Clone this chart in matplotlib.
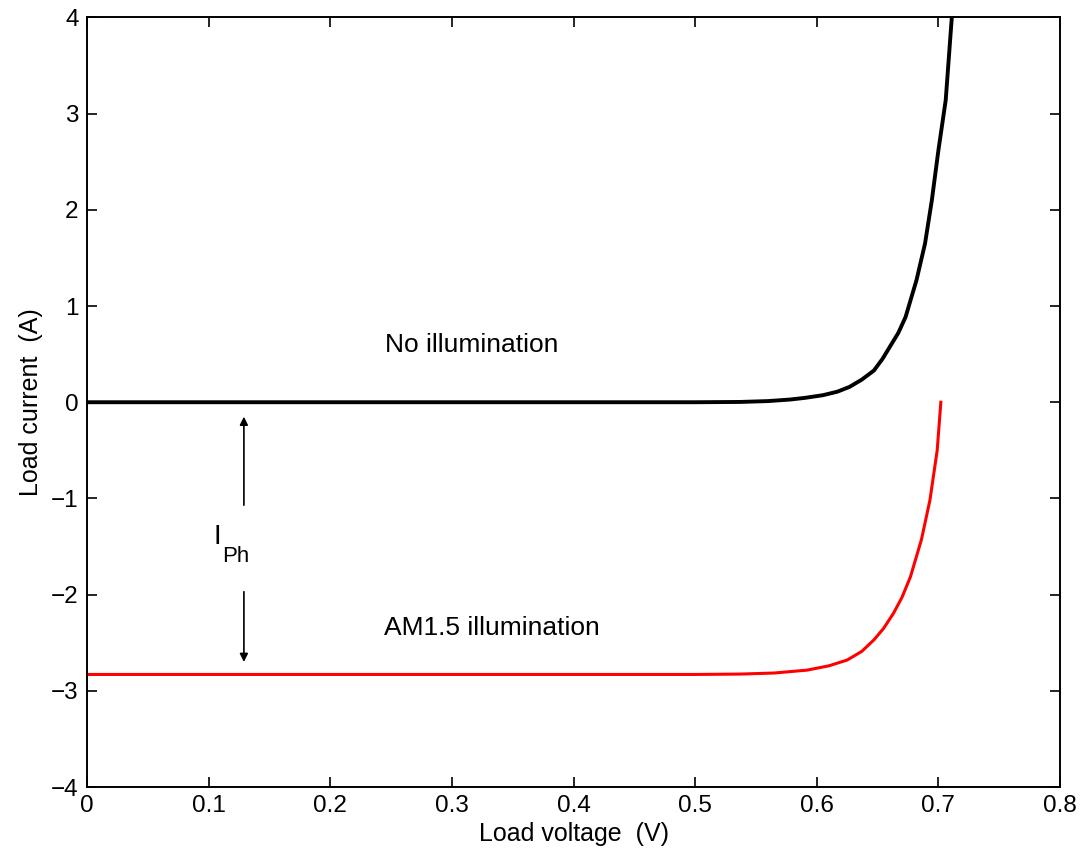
import matplotlib.pyplot as plt

plt.rcParams['font.family'] = ['Liberation Sans', 'DejaVu Sans']

# Curve points
v_dark = [0.0, 0.1, 0.2, 0.3, 0.4, 0.5, 0.537, 0.56, 0.578, 0.59, 0.605, 0.617, 0.627, 0.637,
          0.647, 0.654, 0.660, 0.667, 0.673, 0.682, 0.689, 0.6946, 0.700, 0.706, 0.711]
i_dark = [0.0, 0.0, 0.0, 0.0, 0.0, 0.0, 0.003, 0.012, 0.028, 0.045, 0.073, 0.11, 0.16, 0.235,
          0.33, 0.45, 0.575, 0.72, 0.886, 1.27, 1.65, 2.10, 2.62, 3.14, 4.0]

v_light = [0.0, 0.1, 0.2, 0.3, 0.4, 0.5, 0.537, 0.565, 0.592, 0.61, 0.625, 0.637, 0.647, 0.655,
           0.663, 0.670, 0.677, 0.686, 0.693, 0.699, 0.702]
i_light = [-2.83, -2.83, -2.83, -2.83, -2.83, -2.83, -2.826, -2.815, -2.785, -2.74, -2.68, -2.59, -2.47, -2.35,
           -2.195, -2.03, -1.815, -1.43, -1.02, -0.50, 0.0]

xticks = [0, 0.1, 0.2, 0.3, 0.4, 0.5, 0.6, 0.7, 0.8]
xticklabels = ['0', '0.1', '0.2', '0.3', '0.4', '0.5', '0.6', '0.7', '0.8']
yticks = [-4, -3, -2, -1, 0, 1, 2, 3, 4]

fig = plt.figure(figsize=(10.86, 8.56), dpi=100)
ax = fig.add_axes([0.0801, 0.0806, 0.896, 0.899])

ax.plot(v_dark, i_dark, color='black', lw=2.8, solid_joinstyle='round')
ax.plot(v_light, i_light, color='red', lw=2.2, solid_joinstyle='round')

ax.set_xlim(0, 0.8)
ax.set_ylim(-4, 4)
ax.set_xticks(xticks)
ax.set_xticklabels(xticklabels)
ax.set_yticks(yticks)
ax.tick_params(direction='in', length=7, width=1.2, top=True, right=True, labelsize=17.5, pad=6)
for s in ax.spines.values():
    s.set_linewidth(1.4)

ax.set_xlabel('Load voltage  (V)', fontsize=18, labelpad=3)
ax.set_ylabel('Load current  (A)', fontsize=18, labelpad=6)

ax.text(0.245, 0.59, 'No illumination', fontsize=19, va='center')
ax.text(0.244, -2.35, 'AM1.5 illumination', fontsize=19, va='center')

# I_Ph arrows
arrow = dict(arrowstyle='-|>', color='black', lw=1.2, mutation_scale=12, shrinkA=0, shrinkB=0)
ax.annotate('', xy=(0.129, -0.15), xytext=(0.129, -1.07), arrowprops=arrow)
ax.annotate('', xy=(0.129, -2.70), xytext=(0.129, -1.97), arrowprops=arrow)
ax.text(0.104, -1.40, 'I', fontsize=20, ha='left', va='center')
ax.text(0.111, -1.60, 'Ph', fontsize=16, ha='left', va='center')

fig.savefig('out.png', dpi=100)
